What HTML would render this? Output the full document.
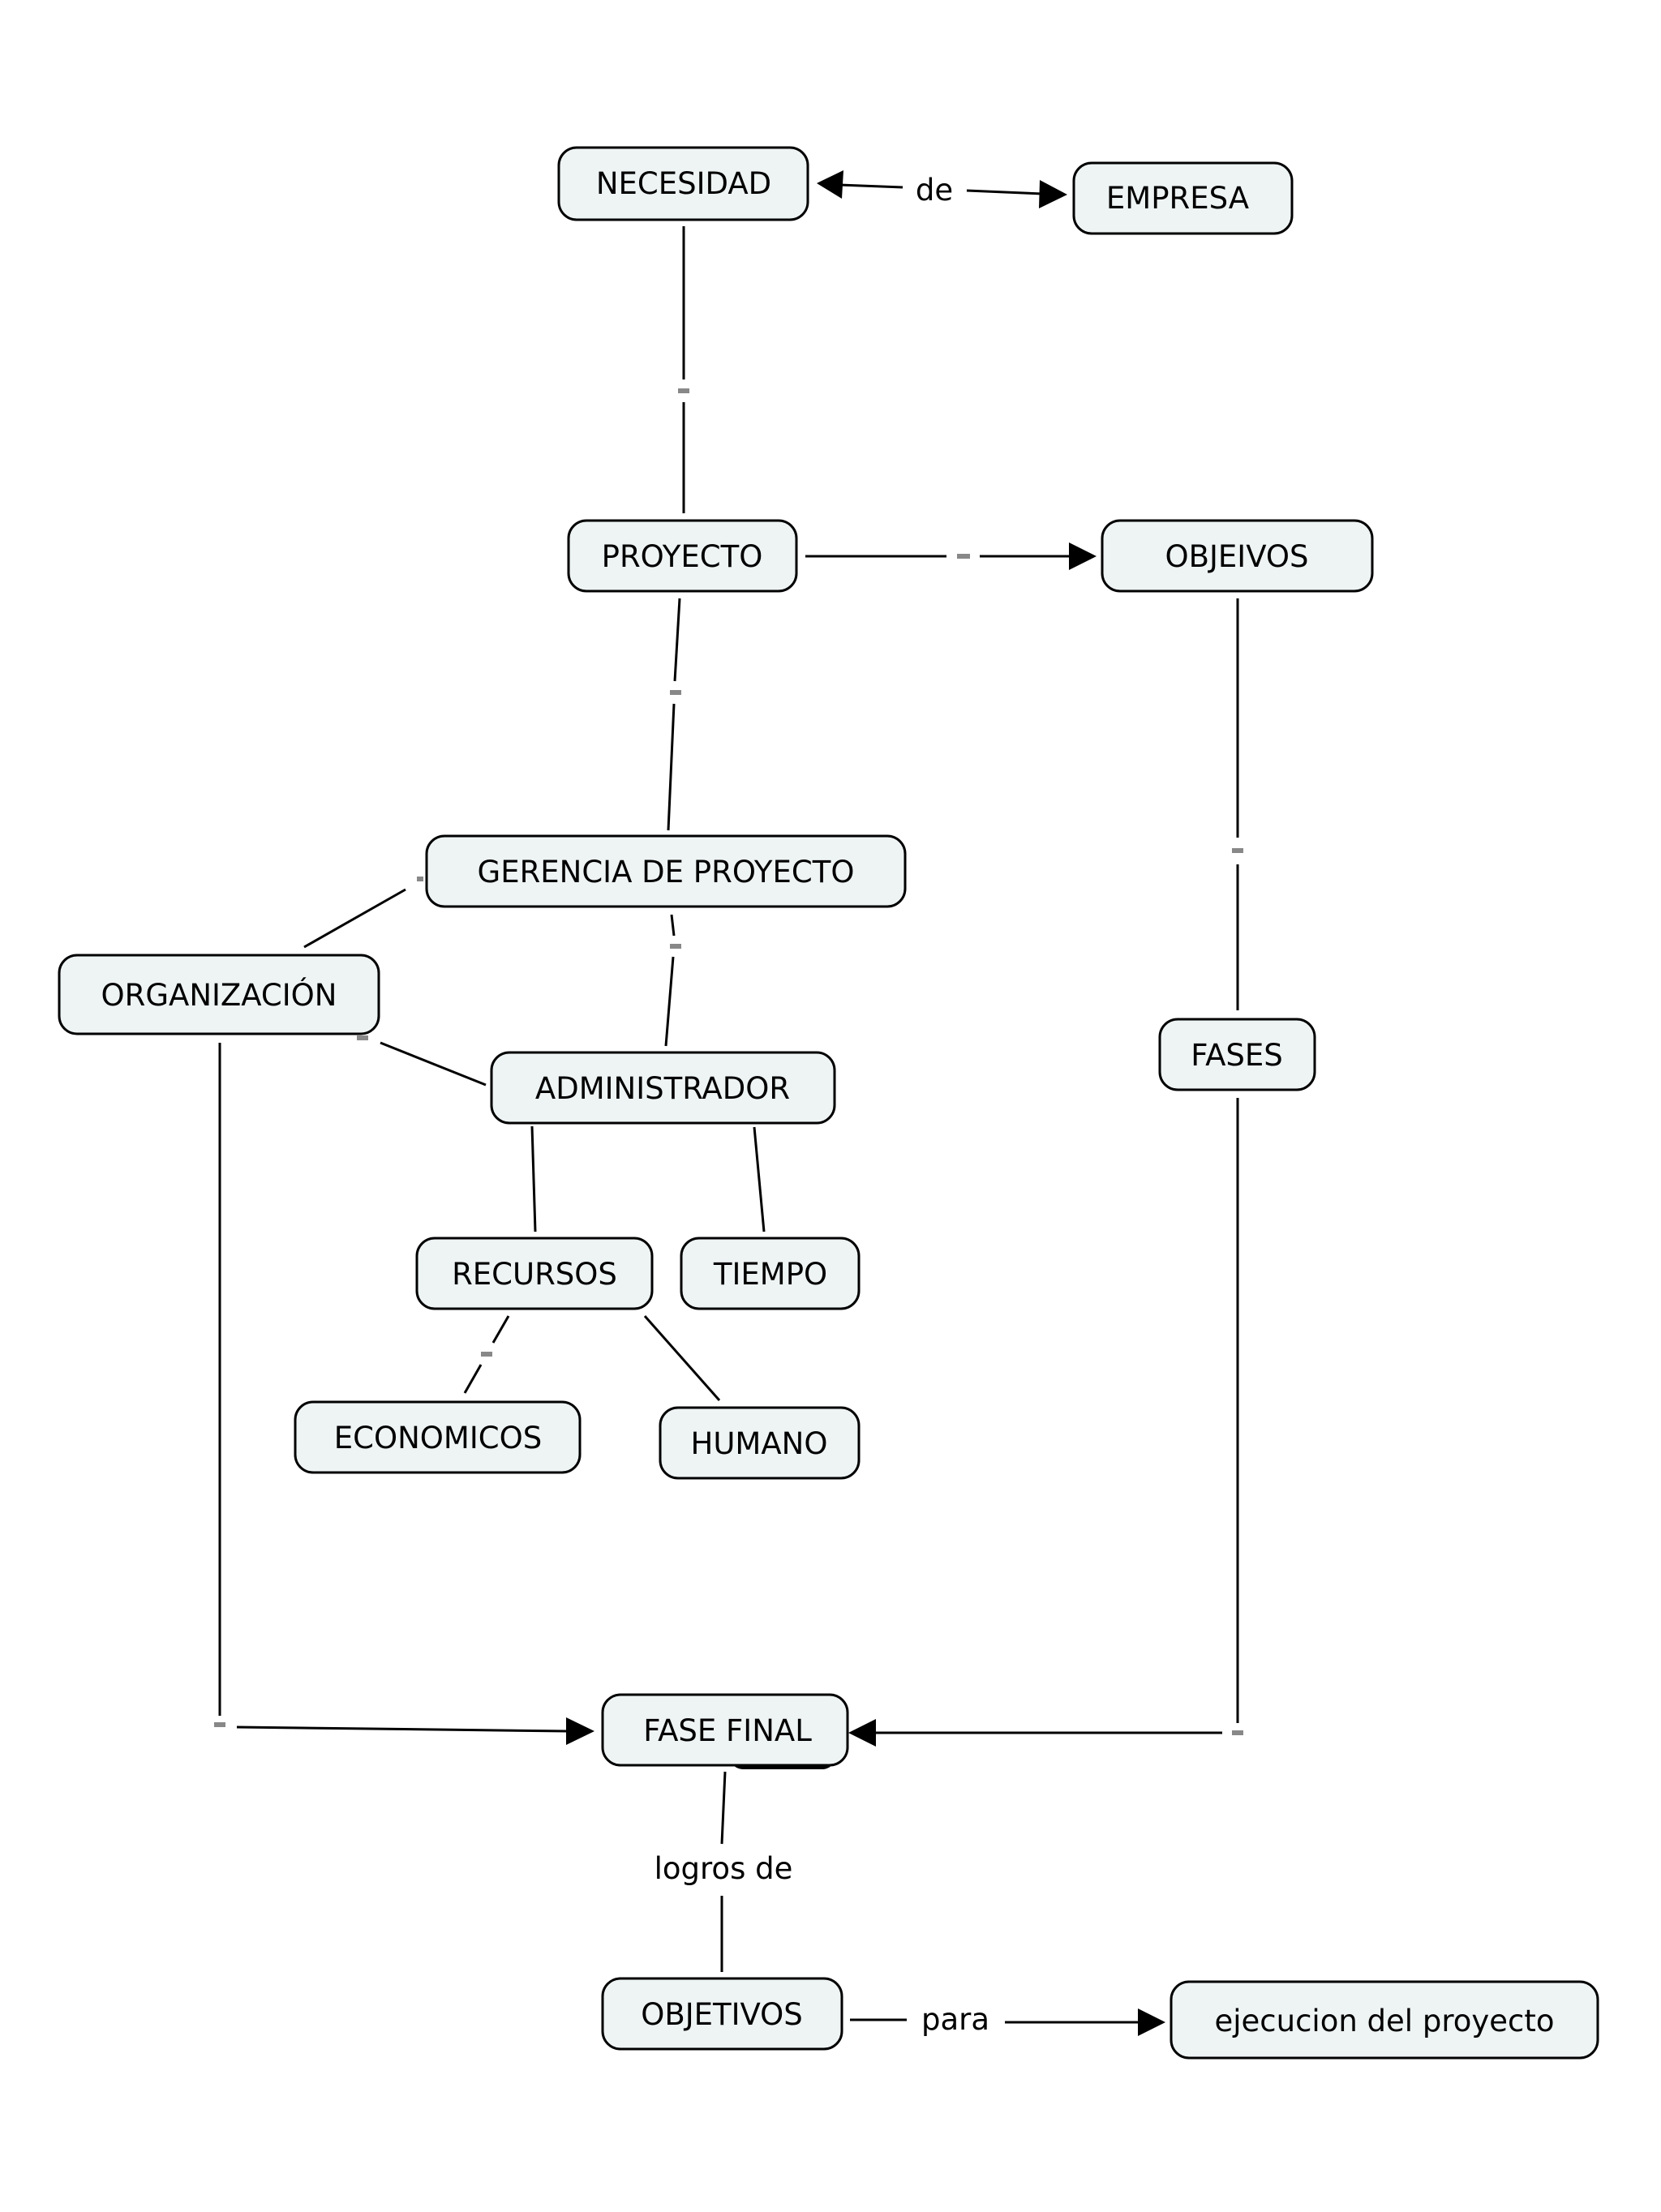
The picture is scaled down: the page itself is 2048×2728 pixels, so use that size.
<!DOCTYPE html>
<html><head><meta charset="utf-8"><style>
html,body{margin:0;padding:0;background:#fff}
svg text{font-family:"DejaVu Sans","Liberation Sans",sans-serif;font-size:37px;fill:#000}
</style></head><body>
<svg width="2048" height="2723" viewBox="0 0 2048 2723" xmlns="http://www.w3.org/2000/svg">
<defs>
<marker id="a" viewBox="0 0 10 10" refX="10" refY="5" markerWidth="10" markerHeight="10" markerUnits="userSpaceOnUse" orient="auto">
</marker>
</defs>
<g stroke="#000" stroke-width="3" fill="none">
<!-- NEC-PROY -->
<line x1="843" y1="279" x2="843" y2="468"/><line x1="843" y1="496" x2="843" y2="633"/>
<!-- de -->
<line x1="1035" y1="228" x2="1113" y2="231"/><line x1="1192" y1="235" x2="1285" y2="239"/>
<!-- PROY-OBJ -->
<line x1="993" y1="686" x2="1167" y2="686"/><line x1="1208" y1="686" x2="1320" y2="686"/>
<!-- PROY-GER -->
<line x1="838" y1="738" x2="832" y2="840"/><line x1="831" y1="868" x2="824" y2="1024"/>
<!-- GER-ORG -->
<line x1="500" y1="1097" x2="375" y2="1168"/>
<!-- GER-ADM -->
<line x1="828" y1="1128" x2="831" y2="1154"/><line x1="830" y1="1180" x2="821" y2="1290"/>
<!-- ORG-ADM -->
<line x1="469" y1="1286" x2="599" y2="1338"/>
<line x1="656" y1="1389" x2="660" y2="1519"/>
<line x1="930" y1="1390" x2="942" y2="1519"/>
<line x1="627" y1="1623" x2="608" y2="1656"/><line x1="593" y1="1683" x2="573" y2="1718"/>
<line x1="795" y1="1623" x2="887" y2="1727"/>
<!-- ORG-FF -->
<line x1="271" y1="1286" x2="271" y2="2116"/><line x1="292" y1="2130" x2="700" y2="2135"/>
<!-- OBJ-FASES -->
<line x1="1526" y1="738" x2="1526" y2="1033"/><line x1="1526" y1="1066" x2="1526" y2="1246"/>
<!-- FASES-FF -->
<line x1="1526" y1="1354" x2="1526" y2="2125"/><line x1="1507" y1="2137" x2="1078" y2="2137"/>
<!-- FF-OBJ -->
<line x1="894" y1="2185" x2="890" y2="2274"/><line x1="890" y1="2338" x2="890" y2="2432"/>
<!-- OBJ-ejec -->
<line x1="1048" y1="2491" x2="1118" y2="2491"/><line x1="1239" y1="2494" x2="1404" y2="2494"/>
</g>
<g fill="#000">
<polygon points="1007,226 1040,210 1038,245"/>
<polygon points="1316,240 1282,222 1281,257"/>
<polygon points="1352,686 1318,669 1318,703"/>
<polygon points="733,2135 698,2118 698,2152"/>
<polygon points="1046,2137 1080,2120 1080,2154"/>
<polygon points="1437,2494 1403,2477 1403,2511"/>
</g>
<g fill="#888">
<rect x="836" y="479" width="14" height="6"/>
<rect x="1180" y="683" width="16" height="6"/>
<rect x="826" y="851" width="14" height="6"/>
<rect x="514" y="1081" width="8" height="6"/>
<rect x="826" y="1164" width="14" height="6"/>
<rect x="440" y="1277" width="14" height="6"/>
<rect x="593" y="1667" width="14" height="6"/>
<rect x="264" y="2124" width="14" height="6"/>
<rect x="1519" y="1046" width="14" height="6"/>
<rect x="1519" y="2134" width="14" height="6"/>
</g>
<text x="1152" y="247" text-anchor="middle">de</text>
<text x="892" y="2317" text-anchor="middle">logros de</text>
<text x="1178" y="2503" text-anchor="middle">para</text>
<rect x="900" y="2150" width="130" height="32" rx="16" fill="#000"/>
<g stroke="#000" stroke-width="3" fill="#eef3f4">
<rect x="689" y="182" width="307" height="89" rx="22"/>
<rect x="1324" y="201" width="269" height="87" rx="22"/>
<rect x="701" y="642" width="281" height="87" rx="22"/>
<rect x="1359" y="642" width="333" height="87" rx="22"/>
<rect x="526" y="1031" width="590" height="87" rx="22"/>
<rect x="73" y="1178" width="394" height="97" rx="22"/>
<rect x="606" y="1298" width="423" height="87" rx="22"/>
<rect x="1430" y="1257" width="191" height="87" rx="22"/>
<rect x="514" y="1527" width="290" height="87" rx="22"/>
<rect x="840" y="1527" width="219" height="87" rx="22"/>
<rect x="364" y="1729" width="351" height="87" rx="22"/>
<rect x="814" y="1736" width="245" height="87" rx="22"/>
<rect x="743" y="2090" width="302" height="87" rx="22"/>
<rect x="743" y="2440" width="295" height="87" rx="22"/>
<rect x="1444" y="2444" width="526" height="94" rx="22"/>
</g>
<g text-anchor="middle">
<text x="843" y="239">NECESIDAD</text>
<text x="1452" y="257">EMPRESA</text>
<text x="841" y="699">PROYECTO</text>
<text x="1525" y="699">OBJEIVOS</text>
<text x="821" y="1088">GERENCIA DE PROYECTO</text>
<text x="270" y="1240">ORGANIZACIÓN</text>
<text x="817" y="1355">ADMINISTRADOR</text>
<text x="1525" y="1314">FASES</text>
<text x="659" y="1584">RECURSOS</text>
<text x="950" y="1584">TIEMPO</text>
<text x="540" y="1786">ECONOMICOS</text>
<text x="936" y="1793">HUMANO</text>
<text x="897" y="2147">FASE FINAL</text>
<text x="890" y="2497">OBJETIVOS</text>
<text x="1707" y="2505">ejecucion del proyecto</text>
</g>
</svg>
</body></html>
